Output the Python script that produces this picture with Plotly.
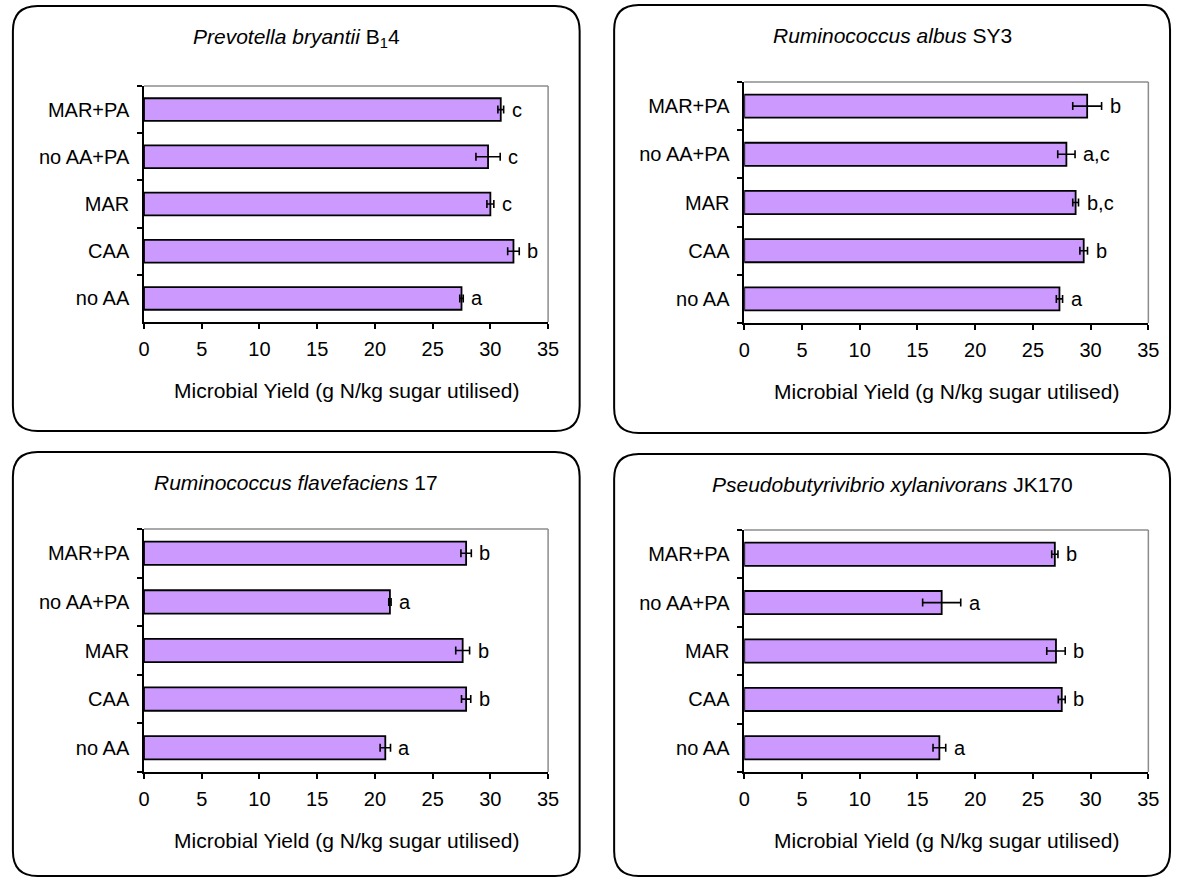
import plotly.graph_objects as go

# ---------------- data ----------------
categories = ["no AA", "CAA", "MAR", "no AA+PA", "MAR+PA"]

prevotella_yield = [27.5, 32.0, 30.0, 29.8, 30.9]
prevotella_err = [0.15, 0.5, 0.3, 1.05, 0.25]
prevotella_letters = ["a", "b", "c", "c", "c"]

albus_yield = [27.3, 29.4, 28.7, 27.9, 29.7]
albus_err = [0.27, 0.33, 0.25, 0.75, 1.25]
albus_letters = ["a", "b", "b,c", "a,c", "b"]

flave_yield = [20.9, 27.9, 27.6, 21.3, 27.9]
flave_err = [0.45, 0.4, 0.6, 0.1, 0.45]
flave_letters = ["a", "b", "b", "a", "b"]

pseudo_yield = [16.9, 27.5, 27.0, 17.1, 26.9]
pseudo_err = [0.55, 0.3, 0.8, 1.65, 0.27]
pseudo_letters = ["a", "b", "b", "a", "b"]

titles = [
    "<i>Prevotella bryantii</i> B<sub>1</sub>4",
    "<i>Ruminococcus albus</i> SY3",
    "<i>Ruminococcus flavefaciens</i> 17",
    "<i>Pseudobutyrivibrio xylanivorans</i> JK170",
]
x_title = "Microbial Yield (g N/kg sugar utilised)"
x_ticks = [0, 5, 10, 15, 20, 25, 30, 35]

series = [
    (prevotella_yield, prevotella_err, prevotella_letters),
    (albus_yield, albus_err, albus_letters),
    (flave_yield, flave_err, flave_letters),
    (pseudo_yield, pseudo_err, pseudo_letters),
]

# ---------------- layout geometry (pixels) ----------------
W, H = 1184, 878
FONT = "Liberation Sans, Arial, sans-serif"
FS = 20
FS_TITLE = 21
BAR_COLOR = "#CC99FF"

# plot areas: (left, right, top, bottom)
plot_px = [
    (140, 550, 86, 322),
    (749, 1159, 82, 323),
    (140, 550, 529, 772),
    (749, 1159, 530, 772),
]
# panel boxes: (left, right, top, bottom)
box_px = [
    (7, 582, 6, 431),
    (617, 1181, 5, 433),
    (7, 582, 452, 876),
    (617, 1181, 454, 876),
]
title_y_px = [38, 35, 482, 485]
RADIUS = 25


def px_x(v):
    return v / W


def px_y(v):
    return 1 - v / H


fig = go.Figure()
layout_axes = {}
annotations = []
shapes = []

for i, ((vals, errs, letters), (l, r, t, b)) in enumerate(zip(series, plot_px)):
    n = "" if i == 0 else str(i + 1)
    xa, ya = "x" + n, "y" + n
    fig.add_trace(go.Bar(
        x=vals, y=categories, orientation="h",
        xaxis=xa, yaxis=ya,
        marker=dict(color=BAR_COLOR, line=dict(color="black", width=1.8)),
        error_x=dict(type="data", array=errs, visible=True,
                     color="black", thickness=1.6, width=4),
        showlegend=False, hoverinfo="x+y",
    ))
    layout_axes["xaxis" + n] = dict(
        domain=[px_x(l), px_x(r)], anchor=ya, range=[0, 35],
        tickmode="array", tickvals=x_ticks,
        ticks="outside", ticklen=5, tickwidth=1.5, tickcolor="black",
        showline=True, linecolor="black", linewidth=1.5,
        showgrid=False, zeroline=False, fixedrange=True,
        tickfont=dict(family=FONT, size=FS, color="black"),
        ticklabelstandoff=3,
    )
    layout_axes["yaxis" + n] = dict(
        domain=[px_y(b), px_y(t)], anchor=xa,
        type="category", categoryorder="array", categoryarray=categories,
        ticks="outside", ticklen=5, tickwidth=1.5, tickcolor="black",
        tickson="boundaries",
        showline=True, linecolor="black", linewidth=1.5,
        showgrid=False, zeroline=False, fixedrange=True,
        tickfont=dict(family=FONT, size=FS, color="black"),
        ticklabelstandoff=9,
    )
    # gray top and right borders of plot area
    shapes.append(dict(type="line", xref=xa + " domain", yref=ya + " domain",
                       x0=0, x1=1, y0=1, y1=1,
                       line=dict(color="#8C8C8C", width=1.5)))
    shapes.append(dict(type="line", xref=xa + " domain", yref=ya + " domain",
                       x0=1, x1=1, y0=0, y1=1,
                       line=dict(color="#8C8C8C", width=1.5)))
    # significance letters
    for v, e, c, lt in zip(vals, errs, categories, letters):
        annotations.append(dict(
            x=v + e, y=c, xref=xa, yref=ya, text=lt, showarrow=False,
            xanchor="left", yanchor="middle", xshift=6,
            font=dict(family=FONT, size=FS, color="black"),
        ))
    # axis title
    annotations.append(dict(
        x=px_x((l + r) / 2), y=px_y(b + 68), xref="paper", yref="paper",
        text=x_title, showarrow=False, xanchor="center", yanchor="middle",
        font=dict(family=FONT, size=FS_TITLE, color="black"),
    ))

# panel boxes and titles
for (l, r, t, b), ty, title in zip(box_px, title_y_px, titles):
    rx, ry = RADIUS / W, RADIUS / H
    x0, x1, y0, y1 = px_x(l), px_x(r), px_y(b), px_y(t)
    path = (f"M {x0+rx},{y1} L {x1-rx},{y1} Q {x1},{y1} {x1},{y1-ry} "
            f"L {x1},{y0+ry} Q {x1},{y0} {x1-rx},{y0} "
            f"L {x0+rx},{y0} Q {x0},{y0} {x0},{y0+ry} "
            f"L {x0},{y1-ry} Q {x0},{y1} {x0+rx},{y1} Z")
    shapes.append(dict(type="path", xref="paper", yref="paper", path=path,
                       line=dict(color="black", width=2), layer="below"))
    annotations.append(dict(
        x=px_x((l + r) / 2), y=px_y(ty), xref="paper", yref="paper",
        text=title, showarrow=False, xanchor="center", yanchor="middle",
        font=dict(family=FONT, size=FS_TITLE, color="black"),
    ))

fig.update_layout(
    width=W, height=H,
    margin=dict(l=0, r=0, t=0, b=0),
    paper_bgcolor="white", plot_bgcolor="white",
    bargap=0.52,
    annotations=annotations,
    shapes=shapes,
    **layout_axes,
)

fig.write_html(
    "out.html",
    config={"displayModeBar": False},
    post_script="document.body.style.margin='0';document.body.style.overflow='hidden';",
)
